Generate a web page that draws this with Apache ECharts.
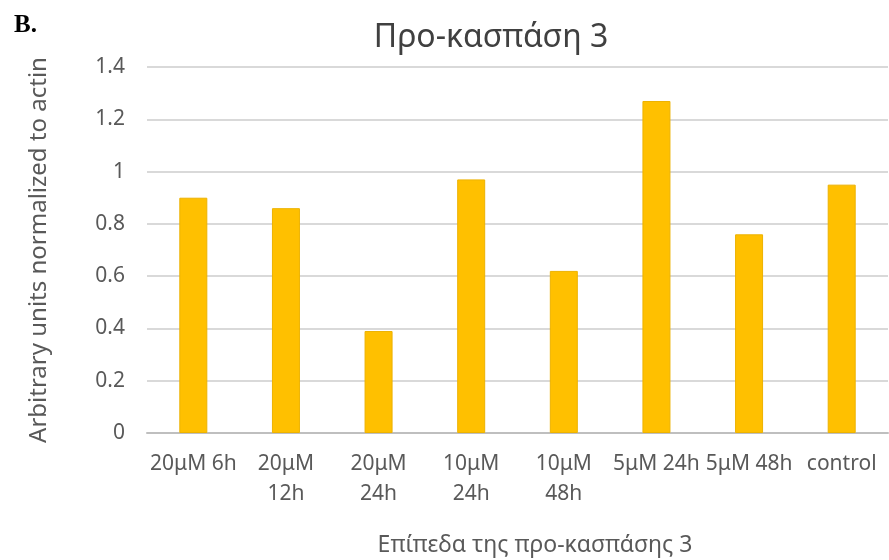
<!DOCTYPE html>
<html>
<head>
<meta charset="utf-8">
<script src="https://cdn.jsdelivr.net/npm/echarts@6/dist/echarts.min.js"></script>
<style>
  html, body { margin: 0; padding: 0; background: #ffffff; }
  #chart { width: 889px; height: 560px; }
</style>
</head>
<body>
<div id="chart"></div>
<script>
// Treatment groups along the x axis
const categories = ['20μM 6h', '20μM\n12h', '20μM\n24h', '10μM\n24h', '10μM\n48h', '5μM 24h', '5μM 48h', 'control'];
// Pro-caspase 3 levels, arbitrary units normalized to actin
const values = [0.90, 0.86, 0.39, 0.97, 0.62, 1.27, 0.76, 0.95];
// Value axis ticks
const yTicks = [0, 0.2, 0.4, 0.6, 0.8, 1, 1.2, 1.4];

const FONT = 'Noto Sans';
const chart = echarts.init(document.getElementById('chart'), null, { renderer: 'canvas' });

chart.setOption({
  animation: false,
  backgroundColor: '#ffffff',
  title: [
    {
      text: 'Προ-κασπάση 3',
      left: 486,
      textAlign: 'center',
      top: 17,
      textStyle: { fontFamily: FONT, fontSize: 32, fontWeight: 'normal', color: '#404040' }
    },
    {
      // panel letter
      text: 'B.',
      left: 9,
      top: 8,
      textStyle: { fontFamily: 'Liberation Serif', fontSize: 25, fontWeight: 'bold', color: '#000000' }
    }
  ],
  graphic: [
    {
      type: 'text', x: 535, y: 545,
      style: {
        text: 'Επίπεδα της προ-κασπάσης 3', fontFamily: FONT, fontSize: 23, fill: '#595959',
        align: 'center', verticalAlign: 'middle'
      }
    }
  ],
  grid: { left: 147, right: 1, top: 67, bottom: 127 },
  xAxis: {
    type: 'category',
    data: categories,
    axisLine: { lineStyle: { color: '#bfbfbf', width: 2 } },
    axisTick: { show: false },
    axisLabel: {
      interval: 0, margin: 16, fontFamily: FONT, fontSize: 21, color: '#595959', lineHeight: 30
    }
  },
  yAxis: {
    type: 'value',
    min: 0, max: yTicks[yTicks.length - 1], interval: 0.2,
    name: 'Arbitrary units normalized to actin',
    nameLocation: 'middle',
    nameGap: 96,
    nameTextStyle: { fontFamily: FONT, fontSize: 24, color: '#595959' },
    axisLine: { show: false },
    axisTick: { show: false },
    splitLine: { lineStyle: { color: '#d9d9d9', width: 2 } },
    axisLabel: {
      margin: 22, fontFamily: FONT, fontSize: 21, color: '#595959',
      formatter: v => String(parseFloat(v.toFixed(1)))
    }
  },
  series: [{
    type: 'bar',
    data: values,
    barWidth: 28,
    itemStyle: { color: '#FFC000', borderColor: '#EDB200', borderWidth: 1 }
  }]
});
</script>
</body>
</html>
